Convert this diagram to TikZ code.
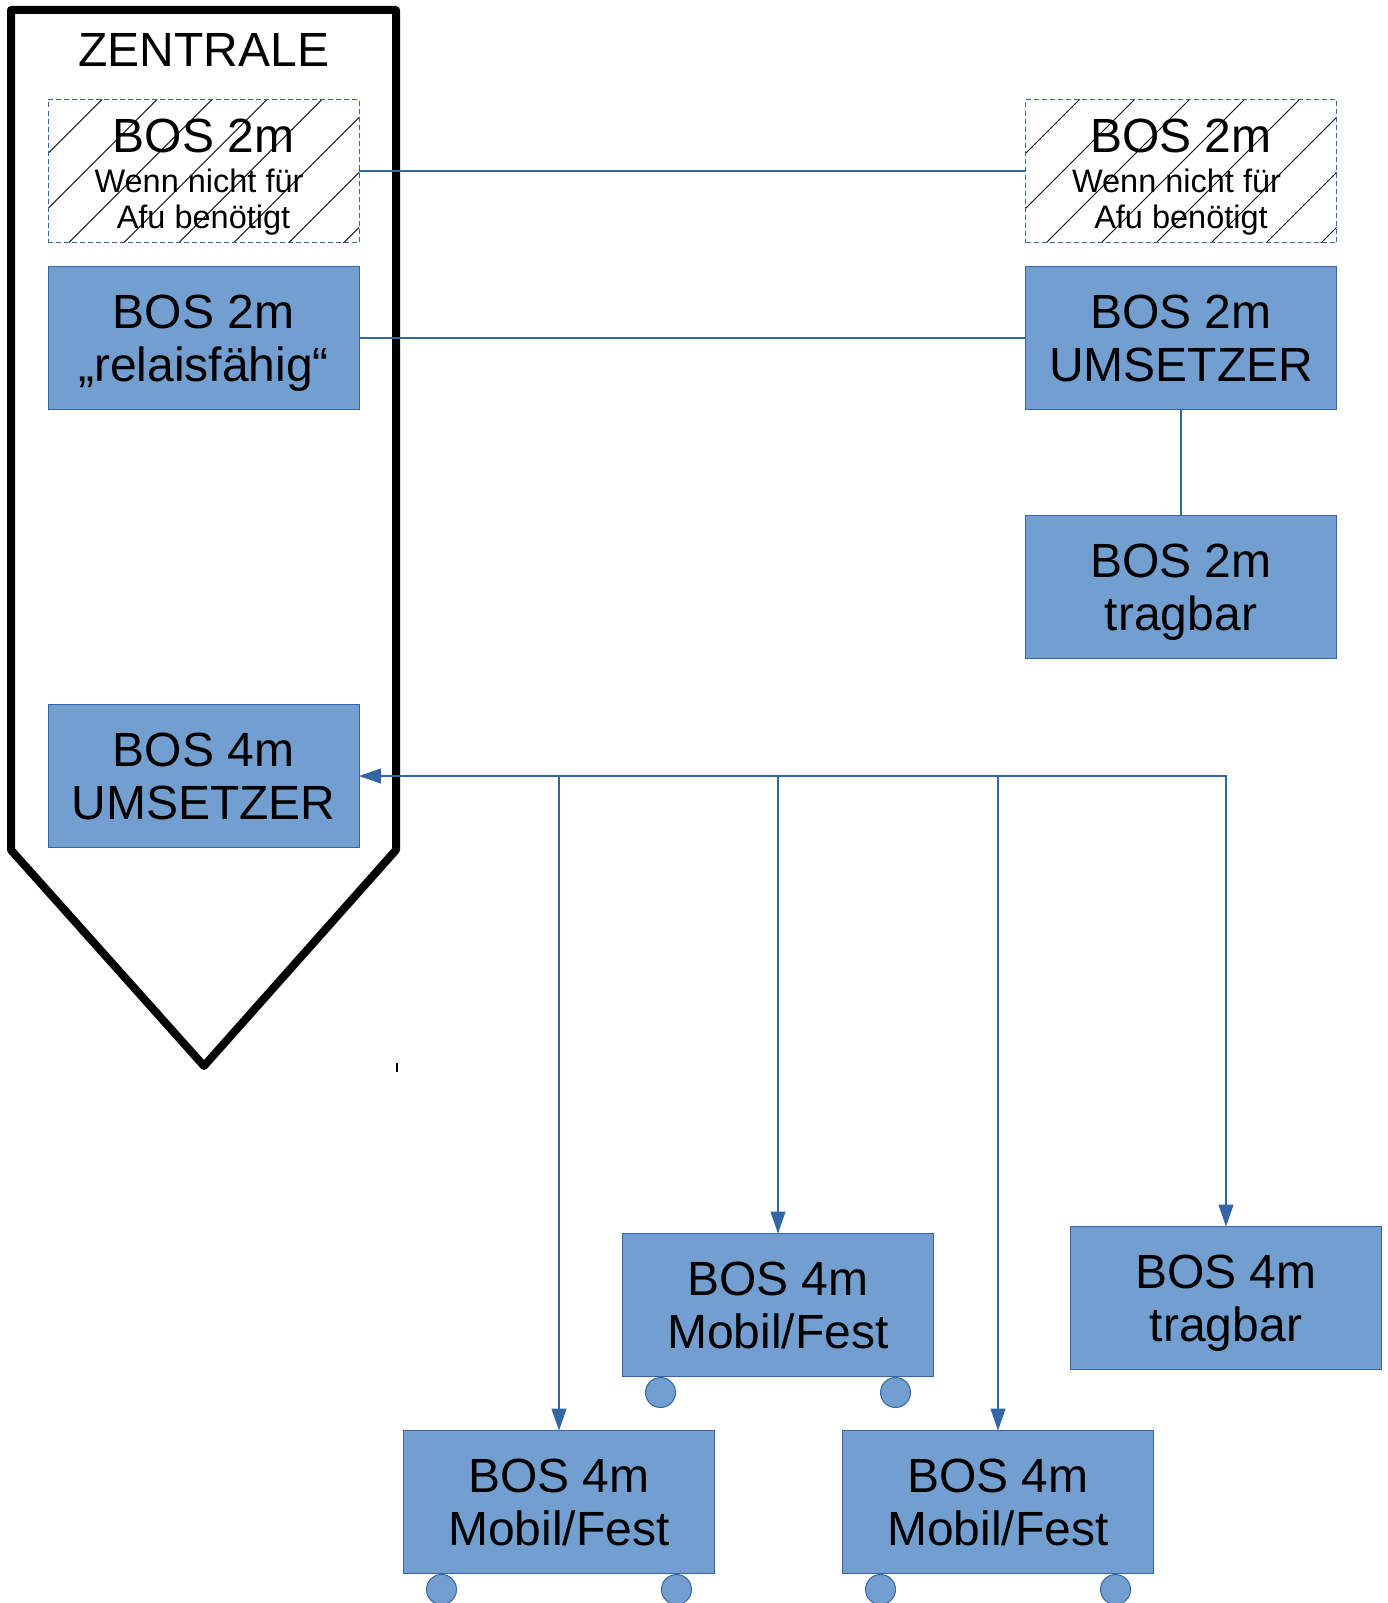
\documentclass[tikz,border=0pt]{standalone}
\usepackage{fontspec}
\setmainfont{Liberation Sans}
\usetikzlibrary{arrows.meta}
\definecolor{boxfill}{HTML}{729FCF}
\definecolor{boxline}{HTML}{3465A4}
\tikzset{
  device/.style={draw=boxline, fill=boxfill, line width=1pt,
    minimum width=311pt, minimum height=143pt, inner sep=0pt, outer sep=0pt,
    align=center, text depth=0pt, font=\fontsize{48}{53}\selectfont},
  optional/.style={device, fill=none, dash pattern=on 5pt off 3pt,
    font=\fontsize{32.5}{36}\selectfont, text height=121pt, text depth=7pt,
    path picture={\foreach \k in {0,...,9}
      \draw[black, solid, line width=0.8pt]
        ([xshift={\k*55pt-1pt}]path picture bounding box.north west) -- ++(-260,260);}},
  wheel/.style={circle, draw=boxline, fill=boxfill, line width=1pt,
    minimum size=30pt, inner sep=0pt},
  link/.style={draw=boxline, line width=1.2pt,
    >={Triangle[length=22pt,width=15pt]}}
}
\begin{document}
\begin{tikzpicture}[x=1pt, y=-1pt]
	\useasboundingbox (0,0) rectangle (1387,1603);
	\draw[line width=8pt, line join=round]
	  (11,10) -- (396,10) -- (396,850) -- (204,1066) -- (11,850) -- cycle;
	\node[font=\fontsize{48}{53}\selectfont] (zentrale) at (204,50) {ZENTRALE};
	\node[optional] (optL) at (203.5,171)
	  {{\fontsize{48}{53}\selectfont BOS 2m}\\[4pt]Wenn nicht für\kern9pt\\Afu benötigt};
	\node[optional] (optR) at (1181,171)
	  {{\fontsize{48}{53}\selectfont BOS 2m}\\[4pt]Wenn nicht für\kern9pt\\Afu benötigt};
	\node[device] (relais) at (203.5,338) {BOS 2m\\„relaisfähig“};
	\node[device] (ums2) at (1181,338) {BOS 2m\\UMSETZER};
	\node[device] (trag2) at (1181,587) {BOS 2m\\tragbar};
	\node[device] (ums4) at (203.5,776) {BOS 4m\\UMSETZER};
	\node[device] (mob1) at (559,1502) {BOS 4m\\Mobil/Fest};
	\node[device] (mob2) at (778,1305) {BOS 4m\\Mobil/Fest};
	\node[device] (mob3) at (998,1502) {BOS 4m\\Mobil/Fest};
	\node[device] (trag4) at (1226,1298) {BOS 4m\\tragbar};
	\foreach \m in {mob1,mob2,mob3} {
	  \node[wheel] (\m-l) at ([xshift=38pt,yshift=-16pt]\m.south west) {};
	  \node[wheel] (\m-r) at ([xshift=-38pt,yshift=-16pt]\m.south east) {};
	}
	\draw[link] (optL.east) -- (optR.west);
	\draw[link] (relais.east) -- (ums2.west);
	\draw[link] (ums2.south) -- (trag2.north);
	\draw[link,<->] (trag4.north) |- (ums4.east);
	\foreach \m in {mob1,mob2,mob3}
	  \draw[link,->] (ums4.east -| \m.north) -- (\m.north);
	\draw[line width=1.5pt] (397,1063) -- (397,1072);
\end{tikzpicture}
\end{document}
